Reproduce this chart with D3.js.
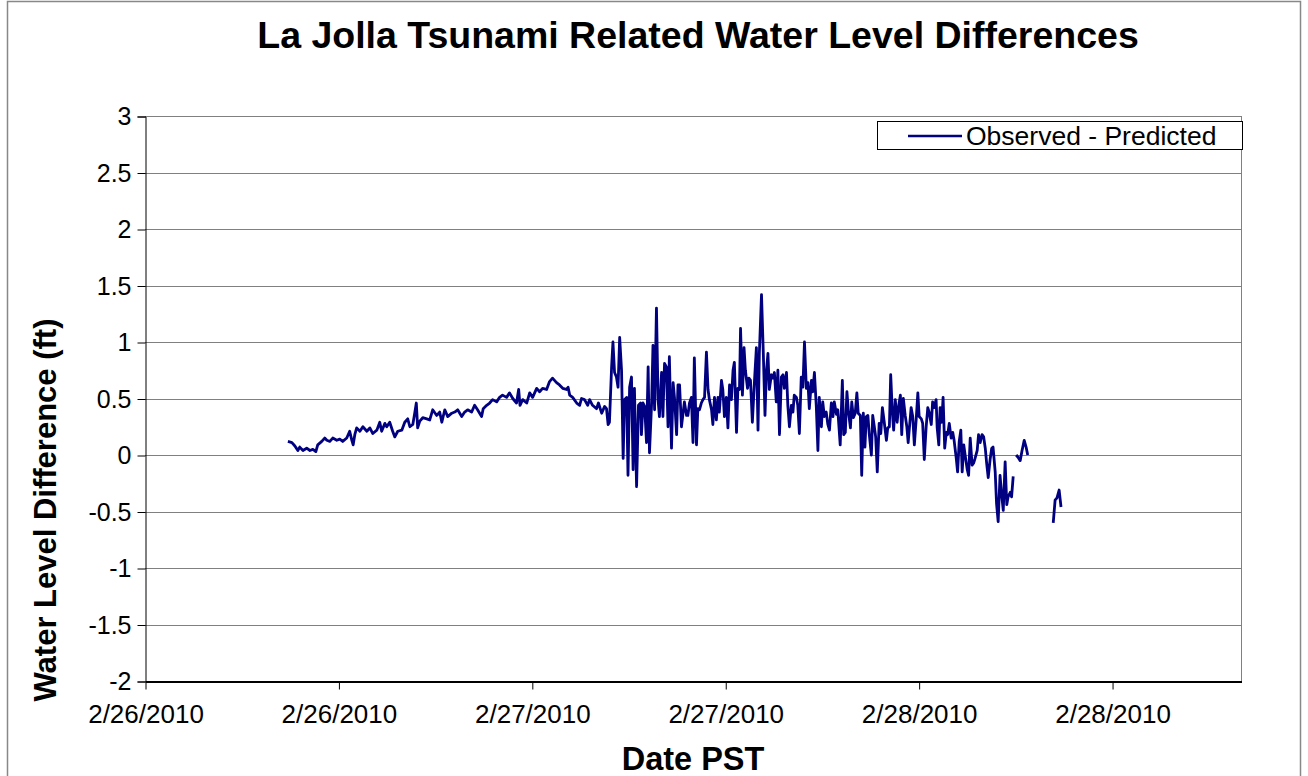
<!DOCTYPE html>
<html>
<head>
<meta charset="utf-8">
<script src="https://cdn.jsdelivr.net/npm/d3@7/dist/d3.min.js"></script>
<style>
body { margin: 0; background: #fff; }
svg text { font-family: Arial, "Liberation Sans", sans-serif; fill: #000; }
</style>
</head>
<body>
<svg width="1308" height="776"></svg>
<script>
// minutes after 2/26/2010 00:00 PST, null = no data
var minutes = [
	532,547,558,569,576,588,602,614,625,636,
	643,658,669,677,688,699,714,725,736,751,
	762,770,775,781,788,800,811,826,837,848,
	863,874,881,893,900,911,922,930,941,956,
	967,978,986,997,1004,1010,1015,1023,1034,1049,
	1060,1071,1086,1097,1105,1116,1127,1142,1153,1164,
	1179,1190,1201,1216,1227,1238,1253,1259,1272,1283,
	1294,1309,1320,1331,1346,1357,1369,1383,1391,1396,
	1406,1421,1432,1443,1458,1469,1480,1495,1506,1517,
	1532,1543,1555,1569,1575,1581,1592,1607,1618,1625,
	1636,1648,1655,1666,1681,1688,1700,1711,1718,1724,
	1729,1737,1742,1748,1755,1761,1767,1774,1780,1785,
	1793,1798,1804,1811,1817,1822,1830,1837,1845,1848,
	1854,1860,1867,1873,1878,1886,1891,1897,1904,1910,
	1915,1923,1928,1934,1941,1947,1952,1960,1966,1971,
	1979,1984,1990,1997,2003,2008,2016,2021,2027,2034,
	2040,2045,2053,2058,2064,2071,2077,2083,2090,2096,
	2101,2109,2114,2120,2127,2133,2138,2146,2151,2157,
	2164,2170,2176,2183,2189,2194,2202,2207,2213,2217,
	2224,2230,2235,2243,2248,2254,2261,2269,2276,2282,
	2287,2295,2302,2308,2313,2319,2324,2332,2337,2343,
	2350,2356,2362,2369,2375,2380,2388,2393,2399,2406,
	2412,2417,2425,2430,2436,2443,2449,2455,2462,2468,
	2473,2481,2486,2492,2499,2505,2510,2518,2523,2529,
	2536,2542,2548,2555,2561,2566,2574,2579,2588,2596,
	2601,2607,2613,2618,2626,2631,2637,2644,2650,2655,
	2663,2668,2674,2680,2685,2691,2696,2704,2709,2715,
	2720,2726,2733,2739,2745,2752,2760,2765,2771,2776,
	2782,2787,2793,2800,2806,2812,2817,2823,2830,2836,
	2841,2852,2858,2864,2871,2877,2882,2890,2895,2901,
	2908,2914,2919,2927,2932,2938,2945,2949,2955,2960,
	2966,2971,2977,2983,2988,2994,3001,3007,3012,3020,
	3025,3031,3037,3042,3048,3053,3061,3066,3072,3079,
	3085,3090,3098,3103,3109,3116,3122,3128,3133,3139,
	3146,3152,3157,3165,3170,3176,3183,3189,3195,3202,
	3208,3213,3221,3226,3232,
	3238,
	3243,3250,3258,3265,3273,3280,3286,
	3330,
	3381,3388,3395,3403,3410
];
var diffs = [
	0.12,0.11,0.08,0.04,0.07,0.04,0.06,0.04,0.05,0.03,
	0.09,0.12,0.15,0.13,0.12,0.15,0.13,0.14,0.12,0.15,
	0.21,0.13,0.09,0.18,0.24,0.21,0.25,0.21,0.24,0.19,
	0.22,0.29,0.21,0.28,0.25,0.29,0.21,0.16,0.21,0.22,
	0.29,0.32,0.25,0.27,0.37,0.46,0.24,0.30,0.33,0.32,
	0.31,0.40,0.35,0.38,0.29,0.40,0.34,0.37,0.38,0.40,
	0.34,0.38,0.40,0.38,0.44,0.40,0.34,0.41,0.44,0.46,
	0.49,0.47,0.51,0.53,0.51,0.55,0.50,0.46,0.58,0.44,
	0.49,0.46,0.55,0.51,0.59,0.56,0.59,0.58,0.65,0.68,
	0.64,0.62,0.59,0.58,0.60,0.53,0.51,0.46,0.44,0.50,
	0.49,0.44,0.49,0.44,0.41,0.46,0.37,0.43,0.41,0.27,
	0.29,0.78,1.00,0.73,0.69,0.60,1.04,0.75,-0.03,0.49,
	0.51,-0.18,0.60,0.69,-0.13,0.59,-0.28,0.44,0.46,0.18,
	0.46,0.43,0.11,0.78,0.02,0.46,0.97,0.40,1.30,0.49,
	0.34,0.73,0.34,0.81,0.78,0.25,0.87,0.06,0.64,0.51,
	0.18,0.62,0.62,0.25,0.37,0.47,0.35,0.35,0.46,0.51,
	0.11,0.86,0.09,0.41,0.40,0.46,0.49,0.51,0.91,0.58,
	0.49,0.40,0.27,0.51,0.31,0.51,0.38,0.66,0.58,0.34,
	0.51,0.24,0.62,0.49,0.75,0.82,0.20,0.59,0.58,1.12,
	0.53,0.95,0.75,0.59,0.68,0.66,0.29,0.66,0.95,0.22,
	0.90,1.42,0.88,0.35,0.73,0.90,0.58,0.71,0.68,0.73,
	0.47,0.75,0.18,0.69,0.71,0.59,0.73,0.44,0.25,0.44,
	0.38,0.53,0.51,0.44,0.19,0.69,0.60,1.00,0.59,0.64,
	0.41,0.66,0.56,0.73,0.43,0.04,0.51,0.25,0.47,0.34,
	0.38,0.27,0.22,0.46,0.34,0.47,0.36,0.40,0.09,0.66,
	0.18,0.20,0.56,0.40,0.24,0.47,0.33,0.37,0.55,0.37,
	0.35,-0.18,0.37,0.07,0.34,0.35,0.19,0.00,0.35,0.25,
	0.16,-0.15,0.28,0.19,0.42,0.29,0.13,0.24,0.25,0.71,
	0.38,0.22,0.49,0.29,0.44,0.53,0.18,0.50,0.35,0.25,
	0.11,0.42,0.34,0.09,0.32,0.55,0.34,0.32,0.28,-0.04,
	0.25,0.42,0.38,0.27,0.47,0.42,0.49,0.24,0.09,0.42,
	0.29,0.51,0.06,0.20,0.18,0.28,0.15,0.20,0.13,-0.03,
	-0.15,0.12,0.22,-0.15,0.09,0.00,-0.13,-0.18,0.15,-0.09,
	-0.07,-0.03,0.04,0.18,0.11,0.18,0.16,0.06,-0.07,-0.20,
	-0.04,0.06,0.07,-0.15,-0.43,-0.59,-0.18,-0.35,-0.49,-0.06,
	-0.44,-0.37,-0.33,-0.37,-0.19,
	null,
	0.00,-0.02,-0.05,0.04,0.13,0.07,0.00,
	null,
	-0.60,-0.40,-0.38,-0.31,-0.46
];

var yTicks = [-2, -1.5, -1, -0.5, 0, 0.5, 1, 1.5, 2, 2.5, 3];
var yTickLabels = ['-2', '-1.5', '-1', '-0.5', '0', '0.5', '1', '1.5', '2', '2.5', '3'];
var xTickMinutes = [0, 720, 1440, 2160, 2880, 3600];
var xTickLabels = ['2/26/2010', '2/26/2010', '2/27/2010', '2/27/2010', '2/28/2010', '2/28/2010'];
var xMax = 4080;

var svg = d3.select('svg'),
	plotLeft = 145, plotRight = 1241, plotTop = 116, plotBottom = 681;

// chart frame
svg.append('rect')
	.attr('x', 7.5).attr('y', 1.5)
	.attr('width', 1293).attr('height', 800)
	.attr('fill', 'none').attr('stroke', '#888').attr('stroke-width', 1.5);

var x = d3.scaleLinear().domain([0, xMax]).range([plotLeft, plotRight]),
	y = d3.scaleLinear().domain([-2, 3]).range([plotBottom, plotTop]);

// gridlines
svg.append('g').selectAll('line')
	.data(yTicks.filter(function(d){ return d > -2; }))
	.enter().append('line')
	.attr('x1', plotLeft).attr('x2', plotRight)
	.attr('y1', function(d){ return Math.round(y(d)) + 0.5; })
	.attr('y2', function(d){ return Math.round(y(d)) + 0.5; })
	.attr('stroke', '#808080').attr('stroke-width', 1);

// right border of plot area
svg.append('line')
	.attr('x1', plotRight + 0.5).attr('x2', plotRight + 0.5)
	.attr('y1', plotTop).attr('y2', plotBottom)
	.attr('stroke', '#808080');

var yAxis = d3.axisLeft(y)
	.tickValues(yTicks)
	.tickFormat(function(d, i){ return yTickLabels[i]; })
	.tickSize(8).tickPadding(6);
var gy = svg.append('g').attr('transform', 'translate(' + (plotLeft + 0.5) + ',0.5)').call(yAxis);
gy.select('.domain').attr('stroke', '#000');
gy.selectAll('text').style('font-size', '25px');

var xAxis = d3.axisBottom(x)
	.tickValues(xTickMinutes)
	.tickFormat(function(d, i){ return xTickLabels[i]; })
	.tickSizeInner(8).tickSizeOuter(0).tickPadding(15);
var gx = svg.append('g').attr('transform', 'translate(0.5,' + (plotBottom + 0.5) + ')').call(xAxis);
gx.select('.domain').attr('stroke', '#000').attr('stroke-width', 2);
gx.selectAll('text').style('font-size', '26px');

// series
var pts = minutes.map(function(m, i){ return [m, diffs[i]]; });
var line = d3.line()
	.defined(function(d){ return d[1] !== null; })
	.x(function(d){ return x(d[0]); })
	.y(function(d){ return y(d[1]); });
svg.append('path')
	.datum(pts)
	.attr('d', line)
	.attr('fill', 'none')
	.attr('stroke', '#000080')
	.attr('stroke-width', 2.8)
	.attr('stroke-linejoin', 'round');

// titles
svg.append('text')
	.attr('x', 698).attr('y', 48)
	.attr('text-anchor', 'middle')
	.style('font-size', '37.5px').style('font-weight', 'bold')
	.text('La Jolla Tsunami Related Water Level Differences');

svg.append('text')
	.attr('x', 693).attr('y', 770)
	.attr('text-anchor', 'middle')
	.style('font-size', '32.5px').style('font-weight', 'bold')
	.text('Date PST');

svg.append('text')
	.attr('transform', 'translate(56,510) rotate(-90)')
	.attr('text-anchor', 'middle')
	.style('font-size', '31px').style('font-weight', 'bold')
	.text('Water Level Difference (ft)');

// legend
var legend = svg.append('g');
legend.append('rect')
	.attr('x', 877.5).attr('y', 121.5)
	.attr('width', 365).attr('height', 28)
	.attr('fill', '#fff').attr('stroke', '#000');
legend.append('line')
	.attr('x1', 908).attr('x2', 962)
	.attr('y1', 136).attr('y2', 136)
	.attr('stroke', '#000080').attr('stroke-width', 2.5);
legend.append('text')
	.attr('x', 966).attr('y', 145)
	.style('font-size', '26.5px')
	.text('Observed - Predicted');
</script>
</body>
</html>
